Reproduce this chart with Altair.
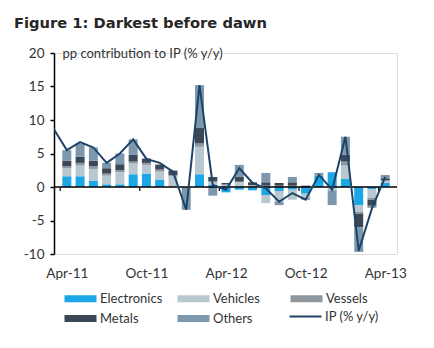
import altair as alt
import pandas as pd

months = ["Apr-11", "May-11", "Jun-11", "Jul-11", "Aug-11", "Sep-11", "Oct-11", "Nov-11",
          "Dec-11", "Jan-12", "Feb-12", "Mar-12", "Apr-12", "May-12", "Jun-12", "Jul-12",
          "Aug-12", "Sep-12", "Oct-12", "Nov-12", "Dec-12", "Jan-13", "Feb-13", "Mar-13", "Apr-13"]
electronics = [1.6, 1.6, 0.9, 0.4, 0.4, 1.9, 2.0, 1.1, 0.0, 0.0, 1.9, 0.3, -0.8, -0.4, -0.5,
               -1.2, -0.6, -0.4, -1.0, 1.7, 2.2, 1.2, -2.7, -0.3, 0.6]
vehicles = [1.2, 1.6, 1.8, 1.3, 1.8, 1.6, 1.3, 1.2, 1.6, 0.0, 4.1, 0.4, 0.3, 0.7, 0.2,
            -1.2, -1.6, -1.5, -0.6, 0.0, -0.5, 2.0, -1.0, -1.3, 0.3]
vessels = [0.3, 0.4, 0.4, 0.3, 0.3, 0.3, 0.3, 0.3, 0.2, 0.0, 0.5, 0.2, 0.1, 0.1, 0.1,
           0.2, 0.2, 0.2, -0.3, 0.0, 0.0, 0.6, -0.3, -0.3, 0.1]
metals = [0.8, 0.9, 0.8, 0.8, 0.9, 1.0, 0.6, 0.7, 0.6, 0.0, 2.3, 0.6, 0.2, 0.7, 0.4,
          0.5, 0.4, 0.5, 0.2, 0.0, 0.0, 1.0, -2.0, -0.9, 0.3]
others = [1.6, 2.0, 2.0, 0.8, 1.6, 2.3, 0.1, 0.1, 0.1, -3.4, 6.4, -1.3, 0.0, 1.8, 0.0,
          1.4, -0.5, 0.8, 0.0, 0.4, -2.2, 2.7, -3.7, -0.3, 0.5]

ip_months = ["Mar-11"] + months
ip_values = [8.7, 5.5, 6.7, 5.9, 3.6, 5.0, 7.1, 4.2, 3.6, 2.3, -3.4, 15.2, 0.3, -0.4, 2.8,
             0.6, -0.2, -2.2, -0.9, -1.9, 1.8, -0.4, 7.5, -9.5, -3.2, 1.5]

tick_labels = ["Apr-11", "Oct-11", "Apr-12", "Oct-12", "Apr-13"]
y_ticks = [-10, -5, 0, 5, 10, 15, 20]
series_names = ["Electronics", "Vehicles", "Vessels", "Metals", "Others"]
line_name = "IP (% y/y)"
series_colors = ["#1ba6e6", "#b8c8d0", "#8e979e", "#3a4754", "#7d98ad"]
line_color = "#1d4468"

# ---- build tables ----
rows = []
for k, (name, vals) in enumerate(zip(series_names, [electronics, vehicles, vessels, metals, others])):
    for i, v in enumerate(vals):
        rows.append({"idx": i, "month": months[i], "series": name, "value": v, "order": k})
bar_df = pd.DataFrame(rows)

ip_df = pd.DataFrame({
    "idx": list(range(-1, len(months))),
    "month": ip_months,
    "value": ip_values,
    "series": [line_name] * len(ip_months),
})

tick_df = pd.DataFrame({"idx": [-0.5, 5.5, 11.5, 17.5, 23.5], "value": [0] * 5, "y1": [-0.6] * 5})
zero_df = pd.DataFrame({"value": [0]})

FONT = "Lato"
xscale = alt.Scale(domain=[-0.59, 24.51], nice=False, zero=False)
yscale = alt.Scale(domain=[-10, 20], nice=False, zero=False)

label_arr = "[" + ",".join("'%s'" % t for t in tick_labels) + "]"

x_axis = alt.Axis(values=[0, 6, 12, 18, 24], labelExpr=label_arr + "[round(datum.value/6)]",
                  domain=False, ticks=False, grid=False, title=None, labelFont=FONT,
                  labelFontSize=13.5, labelColor="#333333", labelPadding=12)
y_axis = alt.Axis(values=y_ticks, grid=False, domainColor="#000000",
                  labelExpr="datum.value < 0 ? '-' + abs(datum.value) : '' + datum.value",
                  labelOverlap=False, tickCount=7,
                  domainWidth=1.5, tickColor="#000000", tickWidth=1.5, tickSize=4,
                  labelFont=FONT, labelFontSize=13.5, labelColor="#333333", labelPadding=6,
                  title="pp contribution to IP (% y/y)", titleAngle=0, titleAlign="left",
                  titleBaseline="middle", titleX=8, titleY=0, titleFont=FONT,
                  titleFontSize=13, titleFontWeight="normal", titleColor="#333333")

X = alt.X("idx:Q", scale=xscale, axis=x_axis)
Y = alt.Y("value:Q", scale=yscale, axis=y_axis)

rect_path = "M-3.2,-0.7H3.2V0.7H-3.2Z"
line_path = "M-3.2,0H3.2"

bar_legend = alt.Legend(
    orient="none", legendX=20, legendY=239, columns=3, title=None, direction="horizontal",
    symbolType=rect_path, symbolSize=100, gridAlign="all", columnPadding=14, rowPadding=6,
    labelFont=FONT, labelFontSize=13, labelColor="#333333", labelOffset=13, padding=0,
    symbolStrokeWidth=0, symbolOpacity=1,
)
line_legend = alt.Legend(
    orient="none", legendX=245, legendY=257, title=None,
    symbolType=line_path, symbolSize=100, symbolStrokeWidth=2, symbolFillColor="transparent",
    labelFont=FONT, labelFontSize=13, labelColor="#333333", labelOffset=13, padding=0,
    symbolOpacity=1,
)

bars = alt.Chart(bar_df).mark_bar(size=9).encode(
    x=X,
    y=alt.Y("value:Q", stack="zero", scale=yscale, axis=y_axis),
    color=alt.Color("series:N", scale=alt.Scale(domain=series_names, range=series_colors),
                    legend=bar_legend),
    order=alt.Order("order:Q"),
)

zero_rule = alt.Chart(zero_df).mark_rule(color="#000000", strokeWidth=1.5).encode(y=Y)

ticks = alt.Chart(tick_df).mark_rule(color="#000000", strokeWidth=1.2).encode(
    x=X, y=Y, y2="y1:Q"
)

line = alt.Chart(ip_df).mark_line(clip=True, strokeWidth=2).encode(
    x=X, y=Y,
    stroke=alt.Stroke("series:N", scale=alt.Scale(domain=[line_name], range=[line_color]),
                      legend=line_legend),
)

chart = alt.layer(bars, zero_rule, ticks, line).properties(
    width=343, height=201,
    autosize=alt.AutoSizeParams(type="none"),
    padding={"left": 54, "top": 53, "right": 37, "bottom": 94},
    title=alt.Title("Figure 1: Darkest before dawn", anchor="start", frame="group", dx=-40,
                    offset=3, font="DejaVu Sans", fontSize=14.7, fontWeight="bold",
                    color="#262626", baseline="alphabetic"),
).configure_view(stroke=None, strokeWidth=0).configure(background="#ffffff")

chart.save("out.html", embed_options={"renderer": "svg", "actions": False})
